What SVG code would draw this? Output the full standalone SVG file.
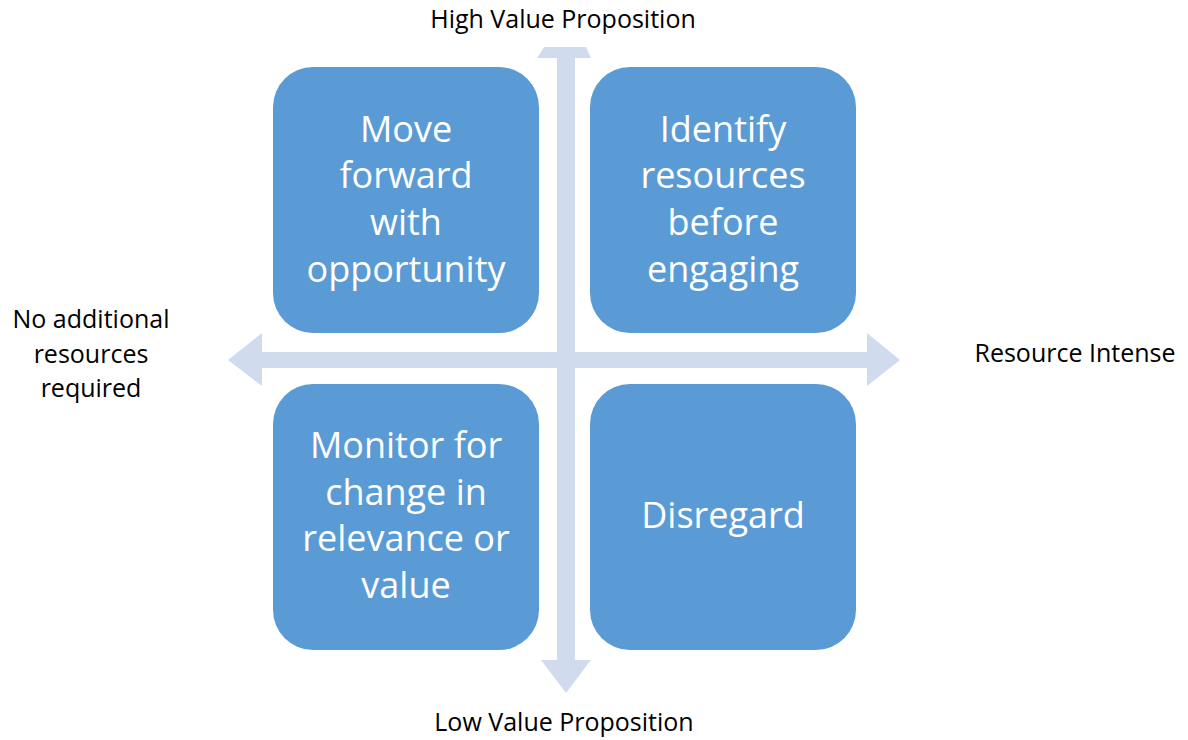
<svg xmlns="http://www.w3.org/2000/svg" width="1188" height="740" viewBox="0 0 1188 740">
  <style>
    .box { fill: #5B9BD5; }
    .box-text { font-family: "Open Sans", Lato, sans-serif; font-size: 36px; fill: #FFFFFF; text-anchor: middle; }
    .axis { fill: #D0DCEE; }
    .label { font-family: "Open Sans", Lato, sans-serif; font-size: 25px; fill: #000000; text-anchor: middle; }
  </style>
  <rect width="1188" height="740" fill="#FFFFFF"/>

  <!-- axes -->
  <g id="connectors">
    <polygon class="axis" points="228,360 262,333 262,352 867,352 867,333 900,360 867,386 867,368 262,368 262,386"/>
    <polygon class="axis" points="544,47 586,47 591,58 575,58 575,660 591,660 566,693 541,660 557,660 557,58 537,58"/>
  </g>

  <g id="node-top-left">
    <rect class="box" x="273" y="67" width="266" height="266" rx="40" ry="40"/>
    <text class="box-text" x="406" y="142">Move</text>
    <text class="box-text" x="406" y="188">forward</text>
    <text class="box-text" x="406" y="235">with</text>
    <text class="box-text" x="406" y="282">opportunity</text>
  </g>

  <g id="node-top-right">
    <rect class="box" x="590" y="67" width="266" height="266" rx="40" ry="40"/>
    <text class="box-text" x="723" y="142">Identify</text>
    <text class="box-text" x="723" y="188">resources</text>
    <text class="box-text" x="723" y="235">before</text>
    <text class="box-text" x="723" y="282">engaging</text>
  </g>

  <g id="node-bottom-left">
    <rect class="box" x="273" y="384" width="266" height="266" rx="40" ry="40"/>
    <text class="box-text" x="406" y="458">Monitor for</text>
    <text class="box-text" x="406" y="505">change in</text>
    <text class="box-text" x="406" y="551">relevance or</text>
    <text class="box-text" x="406" y="598">value</text>
  </g>

  <g id="node-bottom-right">
    <rect class="box" x="590" y="384" width="266" height="266" rx="40" ry="40"/>
    <text class="box-text" x="723" y="528">Disregard</text>
  </g>

  <g id="axis-labels">
    <text class="label" x="563" y="28">High Value Proposition</text>
    <text class="label" x="564" y="731">Low Value Proposition</text>
    <text class="label" x="1075" y="362">Resource Intense</text>
    <text class="label" x="91" y="328">No additional</text>
    <text class="label" x="91" y="363">resources</text>
    <text class="label" x="91" y="397">required</text>
  </g>
</svg>
